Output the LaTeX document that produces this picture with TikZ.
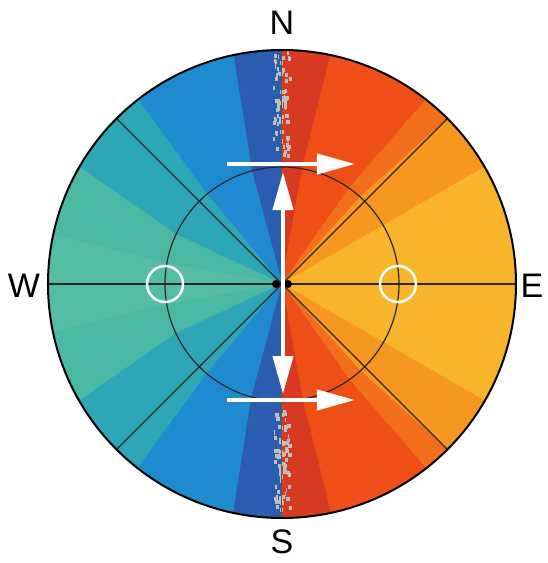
\documentclass[tikz,border=0pt]{standalone}
\usepackage{fontspec}
\setmainfont{Liberation Sans}
\usetikzlibrary{arrows.meta}
\definecolor{darkblue}{HTML}{2A5CB0}
\definecolor{midblue}{HTML}{1E8AD0}
\definecolor{tealblue}{HTML}{2DA6B6}
\definecolor{teal}{HTML}{4BB8A3}
\definecolor{lightteal}{HTML}{55BCA6}
\definecolor{darkred}{HTML}{D73A20}
\definecolor{redorange}{HTML}{F04E17}
\definecolor{midorange}{HTML}{F36F1C}
\definecolor{orange}{HTML}{F69820}
\definecolor{yelloworange}{HTML}{F8B42A}
\newcommand{\colband}[5]{\filldraw[#5, line width=0.6pt] (0,0) -- (#1:117) -- (#2:234) arc (#2:#4:234) -- (#3:117) -- cycle;}
\tikzset{
  gridline/.style={black!85, line width=1.2pt},
  whitearrow/.style={white, line width=4pt, -{Triangle[length=38pt,width=20pt]}},
  ringmark/.style={white, line width=2.5pt},
  compass/.style={font=\fontsize{34}{36}\selectfont, inner sep=0pt},
  speck/.style={fill=black!25}
}

\begin{document}
\begin{tikzpicture}[x=1pt,y=1pt]
\useasboundingbox (-282,-279) rectangle (265,284);
\coordinate (O) at (0,0);
% left half, blue to teal
\colband{90}{90}{105}{102}{darkblue}
\colband{105}{102}{130}{128}{midblue}
\colband{130}{128}{155}{150}{tealblue}
\colband{155}{150}{170}{168}{teal}
\colband{170}{168}{190}{192}{lightteal}
\colband{190}{192}{205}{210}{teal}
\colband{205}{210}{230}{232}{tealblue}
\colband{230}{232}{255}{258}{midblue}
\colband{255}{258}{270}{270}{darkblue}
% right half, red to yellow
\colband{80}{78}{90}{90}{darkred}
\colband{55}{52}{80}{78}{redorange}
\colband{48}{45}{55}{52}{midorange}
\colband{30}{30}{48}{45}{orange}
\colband{-30}{-30}{30}{30}{yelloworange}
\colband{-48}{-45}{-30}{-30}{orange}
\colband{-55}{-52}{-48}{-45}{midorange}
\colband{-80}{-78}{-55}{-52}{redorange}
\colband{-90}{-90}{-80}{-78}{darkred}
% grey speckles along the middle
\pgfmathsetseed{7}
\foreach \k in {1,...,70}{
  \pgfmathsetmacro{\sx}{-1+8*rand}
  \pgfmathsetmacro{\sy}{178+52*rand}
  \pgfmathsetmacro{\sw}{2.5+1.5*rand}
  \fill[speck] (\sx,\sy) rectangle ++(\sw,4);
  \pgfmathsetmacro{\sx}{-1+8*rand}
  \pgfmathsetmacro{\sy}{-176+52*rand}
  \pgfmathsetmacro{\sw}{2.5+1.5*rand}
  \fill[speck] (\sx,\sy) rectangle ++(\sw,-4);
}
% grid
\draw[black!65, line width=1pt] (90:234) -- (270:234);
\draw[gridline] (180:234) -- (0:234);
\draw[gridline] (135:234) -- (-45:234);
\draw[gridline] (45:234) -- (225:234);
\draw[gridline] (O) circle (117);
\draw[black, line width=2pt] (O) circle (234);
\fill[black] (-6,0) circle (4);
\fill[black] (6,0) circle (4);
% arrows
\coordinate (mid) at (1,0);
\coordinate (upTip) at (1,112);
\coordinate (downTip) at (1,-110);
\coordinate (topL) at (-55,120);
\coordinate (topR) at (73,120);
\coordinate (botL) at (-55,-116);
\coordinate (botR) at (73,-116);
\draw[whitearrow] (mid) -- (upTip);
\draw[whitearrow] (mid) -- (downTip);
\draw[whitearrow] (topL) -- (topR);
\draw[whitearrow] (botL) -- (botR);
\coordinate (ringW) at (-117,0);
\coordinate (ringE) at (116,0);
\draw[ringmark] (ringW) circle (18);
\draw[ringmark] (ringE) circle (18);
% compass letters
\node[compass] (nN) at (0,261) {N};
\node[compass] (nS) at (0,-258) {S};
\node[compass] (nW) at (-258,-2) {W};
\node[compass] (nE) at (250,-2) {E};
\end{tikzpicture}
\end{document}
